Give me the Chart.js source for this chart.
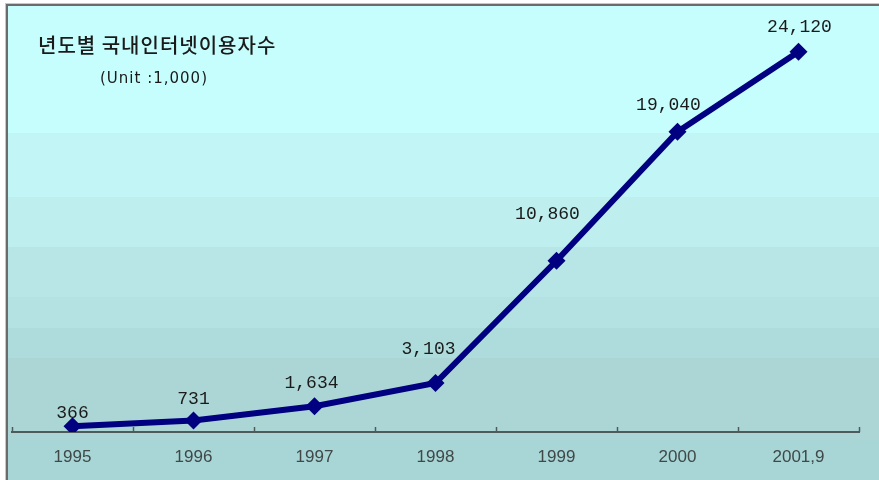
<!DOCTYPE html>
<html>
<head>
<meta charset="utf-8">
<script src="https://cdn.jsdelivr.net/npm/chart.js@4.4.1/dist/chart.umd.min.js"></script>
<style>
  html, body { margin: 0; padding: 0; background: #fff; }
  #wrap { width: 879px; height: 480px; position: relative; }
</style>
</head>
<body>
<div id="wrap"><canvas id="usersChart"></canvas></div>
<script>
// Internet users in Korea by year (unit: 1,000)
var years = ['1995', '1996', '1997', '1998', '1999', '2000', '2001,9'];
var users = [366, 731, 1634, 3103, 10860, 19040, 24120];
var valueLabels = ['366', '731', '1,634', '3,103', '10,860', '19,040', '24,120'];

var titleText = '년도별 국내인터넷이용자수';
var unitText = '(Unit :1,000)';

// where each value label sits relative to its point
var labelShift = [[0, -13], [0, -21], [-3, -23], [-7, -34], [-9, -47], [-9, -27], [1, -24]];

// stepped teal background, top to bottom
var bands = [
    { to: 133, color: '#c6fdfd' },
    { to: 197, color: '#c2f5f5' },
    { to: 247, color: '#beeeee' },
    { to: 297, color: '#b8e6e6' },
    { to: 328, color: '#b4e1e1' },
    { to: 358, color: '#aedcdc' },
    { to: 440, color: '#acd6d6' },
    { to: 480, color: '#a8d5d5' }
];

var backdrop = {
    id: 'backdrop',
    beforeDraw: function(chart) {
        var ctx = chart.ctx;
        ctx.save();
        ctx.fillStyle = '#ffffff';
        ctx.fillRect(0, 0, chart.width, chart.height);
        var top = 6;
        bands.forEach(function(b) {
            ctx.fillStyle = b.color;
            ctx.fillRect(8, top, chart.width - 8, b.to - top);
            top = b.to;
        });
        // frame on the left and top
        ctx.fillStyle = '#6b6b6b';
        ctx.fillRect(6, 4, chart.width - 6, 2);
        ctx.fillRect(6, 4, 2, chart.height - 4);
        ctx.fillStyle = '#c8c8c8';
        ctx.fillRect(5, 3, chart.width - 5, 1);
        ctx.fillRect(5, 3, 1, chart.height - 3);

        ctx.fillStyle = '#1a1a1a';
        ctx.textAlign = 'left';
        ctx.textBaseline = 'middle';
        ctx.letterSpacing = '1px';
        ctx.font = '500 20px "Noto Sans CJK KR"';
        ctx.fillText(titleText, 38, 45);
        ctx.font = '15px "DejaVu Sans"';
        ctx.fillText(unitText, 100, 79);
        ctx.restore();
    },
    afterDraw: function(chart) {
        var ctx = chart.ctx;
        var x = chart.scales.x;
        var area = chart.chartArea;
        ctx.save();
        // small upward ticks between the categories
        ctx.strokeStyle = '#4f5a5a';
        ctx.lineWidth = 1.5;
        var step = (x.right - x.left) / years.length;
        for (var i = 0; i <= years.length; i++) {
            var px = Math.round(x.left + i * step) + 0.5;
            ctx.beginPath();
            ctx.moveTo(px, area.bottom);
            ctx.lineTo(px, area.bottom - 5);
            ctx.stroke();
        }
        // value labels
        var meta = chart.getDatasetMeta(0);
        ctx.fillStyle = '#1a1a1a';
        ctx.font = '18px "Liberation Mono"';
        ctx.textAlign = 'center';
        ctx.textBaseline = 'middle';
        meta.data.forEach(function(pt, idx) {
            ctx.fillText(valueLabels[idx], pt.x + labelShift[idx][0], pt.y + labelShift[idx][1]);
        });
        ctx.restore();
    }
};

new Chart(document.getElementById('usersChart'), {
    type: 'line',
    data: {
        labels: years,
        datasets: [{
            data: users,
            borderColor: '#000080',
            backgroundColor: '#000080',
            borderWidth: 6,
            tension: 0,
            pointStyle: 'rectRot',
            pointRadius: 9,
            pointHoverRadius: 9,
            pointBorderWidth: 0
        }]
    },
    options: {
        responsive: true,
        maintainAspectRatio: false,
        animation: false,
        layout: {
            autoPadding: false,
            padding: { left: 12, right: 20, top: 22, bottom: 11 }
        },
        plugins: {
            legend: { display: false },
            tooltip: { enabled: false }
        },
        scales: {
            x: {
                offset: true,
                grid: { display: false, drawTicks: false },
                border: { display: true, color: '#4f5a5a', width: 2 },
                ticks: {
                    color: '#404848',
                    padding: 15,
                    font: { family: 'Liberation Sans', size: 17 }
                },
                afterFit: function(scale) {
                    scale.height = 37;
                }
            },
            y: {
                display: false,
                min: 0,
                max: 26000
            }
        }
    },
    plugins: [backdrop]
});
</script>
</body>
</html>
